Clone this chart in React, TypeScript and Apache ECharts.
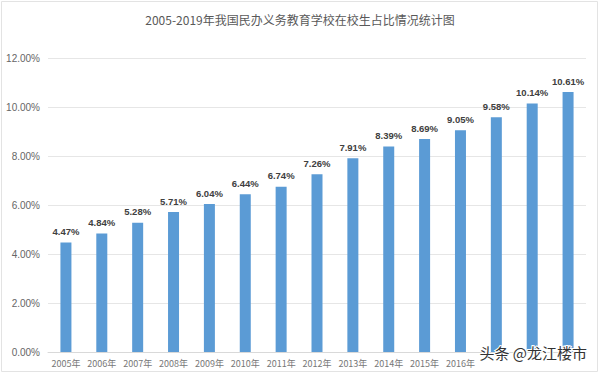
import React, { useEffect, useRef } from "react";
import * as echarts from "echarts";

const categories = ["2005年","2006年","2007年","2008年","2009年","2010年","2011年","2012年","2013年","2014年","2015年","2016年","2017年","2018年","2019年"];
const values = [4.47, 4.84, 5.28, 5.71, 6.04, 6.44, 6.74, 7.26, 7.91, 8.39, 8.69, 9.05, 9.58, 10.14, 10.61];
const titleText = "2005-2019年我国民办义务教育学校在校生占比情况统计图";
const watermark = "头条 @龙江楼市";

export default function App() {
  const ref = useRef<HTMLDivElement>(null);
  useEffect(() => {
    document.body.style.margin = "0";
    const chart = echarts.init(ref.current!, null, { renderer: "svg" });
    chart.setOption({
      animation: false,
      backgroundColor: "#ffffff",
      title: {
        text: titleText,
        left: "center",
        top: 8,
        textStyle: { fontSize: 12, fontWeight: "normal", color: "#595959", fontFamily: "Noto Sans CJK SC" },
      },
      grid: { left: 48, right: 14, top: 58, bottom: 25 },
      xAxis: {
        type: "category",
        data: categories,
        axisLine: { lineStyle: { color: "#d9d9d9" } },
        axisTick: { show: false },
        axisLabel: { fontSize: 9, color: "#777777", margin: 7, interval: 0, fontFamily: "Noto Sans CJK SC" },
      },
      yAxis: {
        type: "value",
        min: 0,
        max: 12,
        interval: 2,
        axisLine: { show: false },
        axisTick: { show: false },
        splitLine: { lineStyle: { color: "#e6e6e6" } },
        axisLabel: {
          fontSize: 10,
          color: "#666666",
          margin: 8,
          fontFamily: "Liberation Sans",
          formatter: (v: number) => v.toFixed(2) + "%",
        },
      },
      series: [
        {
          type: "bar",
          data: values,
          barWidth: 11,
          itemStyle: { color: "#5b9bd5" },
          label: {
            show: true,
            position: "top",
            distance: 6,
            fontSize: 9.5,
            fontWeight: "bold",
            color: "#404040",
            fontFamily: "Liberation Sans",
            formatter: (p: any) => p.value.toFixed(2) + "%",
          },
        },
      ],
      graphic: [
        {
          type: "rect",
          shape: { x: 1.5, y: 1.5, width: 596, height: 370 },
          style: { fill: "none", stroke: "#e3e3e3", lineWidth: 1 },
          silent: true,
        },
        {
          type: "rect",
          shape: { x: 478, y: 353, width: 117, height: 17 },
          style: { fill: "#ffffff" },
          silent: true,
          z: 99,
        },
        {
          type: "text",
          right: 12,
          top: 344,
          style: {
            text: watermark,
            fontSize: 15,
            fill: "#333333",
            stroke: "#ffffff",
            lineWidth: 2,
            fontFamily: "Noto Sans CJK SC",
          },
          z: 100,
        },
      ],
    });
    return () => chart.dispose();
  }, []);
  return <div ref={ref} style={{ width: 600, height: 377 }} />;
}
